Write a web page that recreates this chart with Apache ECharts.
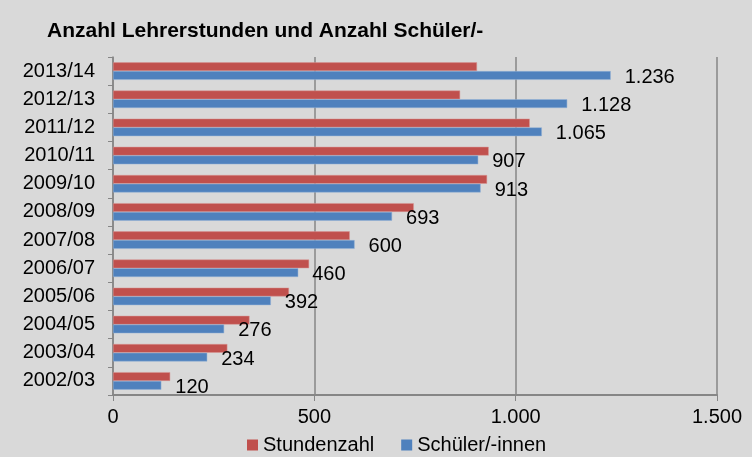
<!DOCTYPE html>
<html>
<head>
<meta charset="utf-8">
<script src="https://cdn.jsdelivr.net/npm/echarts@6/dist/echarts.min.js"></script>
<style>
  html, body { margin: 0; padding: 0; background: #fff; }
  #chart { width: 752px; height: 457px; }
</style>
</head>
<body>
<div id="chart"></div>
<script>
// Schuljahre, von unten nach oben
var years = ['2002/03', '2003/04', '2004/05', '2005/06', '2006/07', '2007/08',
             '2008/09', '2009/10', '2010/11', '2011/12', '2012/13', '2013/14'];
// Stundenzahl (aus dem Bild geschaetzt)
var stunden = [142, 284, 339, 437, 487, 588, 747, 929, 933, 1035, 862, 904];
// Schueler/-innen (beschriftet)
var schueler = [120, 234, 276, 392, 460, 600, 693, 913, 907, 1065, 1128, 1236];
var xTicks = [0, 500, 1000, 1500];

function deNum(v) {
    return String(v).replace(/\B(?=(\d{3})+(?!\d))/g, '.');
}

var mychart = echarts.init(document.getElementById('chart'));

var option = {
    backgroundColor: '#d9d9d9',
    animation: false,
    textStyle: { fontFamily: 'Liberation Sans, Arial, sans-serif' },
    title: {
        text: 'Anzahl Lehrerstunden und Anzahl Schüler/-',
        left: 42,
        top: 16,
        textStyle: { fontSize: 21, fontWeight: 'bold', color: '#000' }
    },
    legend: {
        top: 430,
        left: 242,
        data: ['Stundenzahl', 'Schüler/-innen'],
        itemWidth: 11,
        itemHeight: 11,
        itemGap: 27,
        icon: 'rect',
        itemStyle: { borderWidth: 0 },
        textStyle: { fontSize: 20, color: '#000' }
    },
    grid: {
        left: 113,
        right: 35,
        top: 57,
        bottom: 62
    },
    xAxis: {
        type: 'value',
        min: 0,
        max: 1500,
        interval: 500,
        axisLine: { show: true, lineStyle: { color: '#868686', width: 2 } },
        axisTick: { show: true, length: 6, lineStyle: { color: '#868686' } },
        splitLine: { show: true, lineStyle: { color: '#868686', width: 1.5 } },
        axisLabel: {
            fontSize: 20, color: '#000', margin: 12,
            formatter: function (v) { return xTicks.indexOf(v) >= 0 ? deNum(v) : ''; }
        }
    },
    yAxis: {
        type: 'category',
        data: years,
        axisLine: { show: true, lineStyle: { color: '#868686', width: 1.5 } },
        axisTick: { show: true, length: 5, lineStyle: { color: '#868686' } },
        axisLabel: { fontSize: 20, color: '#000', margin: 18 }
    },
    series: [
        {
            name: 'Stundenzahl',
            type: 'bar',
            data: stunden,
            barGap: '0%',
            barCategoryGap: '38%',
            itemStyle: { color: '#c0504d', borderColor: '#d99694', borderWidth: 0.5 }
        },
        {
            name: 'Schüler/-innen',
            type: 'bar',
            data: schueler,
            barGap: '0%',
            barCategoryGap: '38%',
            itemStyle: { color: '#4f81bd', borderColor: '#95b3d7', borderWidth: 0.5 },
            label: {
                show: true,
                position: 'right',
                distance: 14,
                offset: [0, 2],
                fontSize: 20,
                color: '#000',
                formatter: function (p) { return deNum(p.value); }
            }
        }
    ]
};

mychart.setOption(option, true);
</script>
</body>
</html>
